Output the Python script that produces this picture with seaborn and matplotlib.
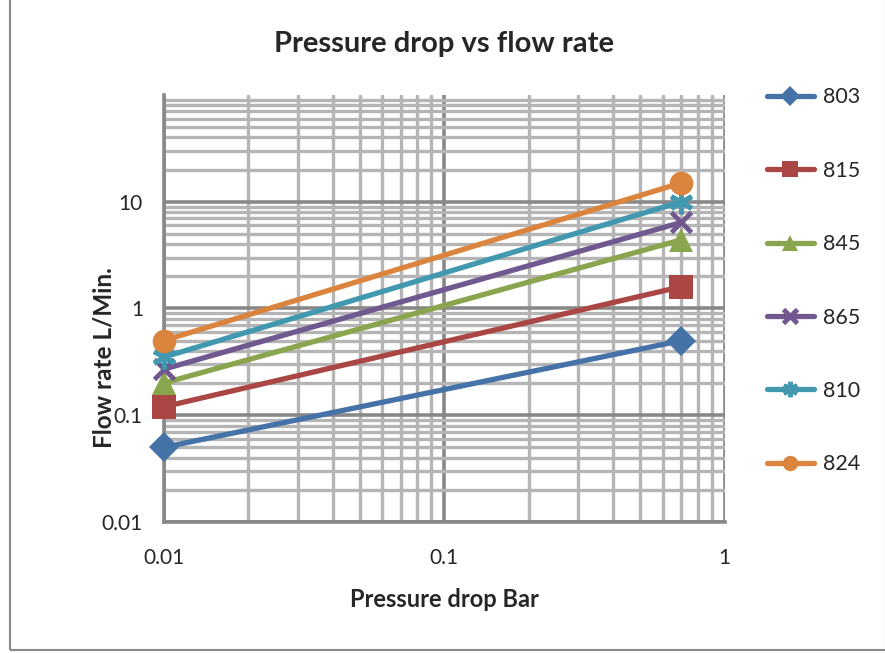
import numpy as np
import pandas as pd
import matplotlib
matplotlib.use("Agg")
import matplotlib.pyplot as plt
from matplotlib.ticker import LogLocator, FixedLocator, FixedFormatter, NullFormatter
import seaborn as sns

# data
pressure = [0.01, 0.7]
series_names = ["803", "815", "845", "865", "810", "824"]
flow_803 = [0.05, 0.5]
flow_815 = [0.12, 1.6]
flow_845 = [0.2, 4.4]
flow_865 = [0.27, 6.4]
flow_810 = [0.35, 10.0]
flow_824 = [0.5, 15.0]

colors = ["#4572A7", "#AA4643", "#89A54E", "#71588F", "#4198AF", "#DB843D"]
markers = ["D", "s", "^", "x", (6, 2, 0), "o"]
marker_sizes = [15, 17, 17, 15, 17, 17]

df = pd.DataFrame({
    "pressure": pressure * 6,
    "flow": flow_803 + flow_815 + flow_845 + flow_865 + flow_810 + flow_824,
    "series": [s for s in series_names for _ in pressure],
})

sns.set_style("white")
plt.rcParams["font.family"] = ["Lato", "DejaVu Sans"]

fig = plt.figure(figsize=(8.85, 6.53), dpi=100)
ax = fig.add_axes([0.185, 0.2006, 0.634, 0.654])

ax.set_xscale("log")
ax.set_yscale("log")

for name, col, mk, ms in zip(series_names, colors, markers, marker_sizes):
    sub = df[df["series"] == name]
    line_mk = mk in ("x", (6, 2, 0))
    sns.lineplot(data=sub, x="pressure", y="flow", ax=ax, color=col,
                 marker=mk, markersize=ms, markeredgewidth=3.5 if line_mk else 0,
                 markeredgecolor=col, linewidth=3.8, label=name, zorder=3,
                 clip_on=False)

ax.set_xlim(0.01, 1)
ax.set_ylim(0.01, 100)

# grid
ax.yaxis.set_major_locator(FixedLocator([0.01, 0.1, 1, 10]))
ax.yaxis.set_major_formatter(FixedFormatter(["0.01", "0.1", "1", "10"]))
ax.xaxis.set_major_locator(FixedLocator([0.01, 0.1, 1]))
ax.xaxis.set_major_formatter(FixedFormatter(["0.01", "0.1", "1"]))
ax.xaxis.set_minor_locator(LogLocator(base=10, subs=np.arange(2, 10), numticks=10))
ax.yaxis.set_minor_locator(LogLocator(base=10, subs=np.arange(2, 10), numticks=10))
ax.xaxis.set_minor_formatter(NullFormatter())
ax.yaxis.set_minor_formatter(NullFormatter())
ax.grid(which="minor", color="#b5b5b5", linewidth=2.4, zorder=0)
ax.grid(which="major", color="#888888", linewidth=2.6, zorder=0)
ax.set_axisbelow(True)

for side in ["top", "right"]:
    ax.spines[side].set_visible(False)
for side in ["left", "bottom"]:
    ax.spines[side].set_color("#888888")
    ax.spines[side].set_linewidth(2.6)

ax.tick_params(which="major", direction="out", length=7, width=2.5, color="#888888",
               labelsize=15, pad=12)
ax.tick_params(axis="y", which="major", pad=8)
ax.tick_params(which="minor", length=0)

ax.set_title("Pressure drop vs flow rate", fontsize=21, fontweight="bold", pad=31)
ax.set_xlabel("Pressure drop Bar", fontsize=17, fontweight="bold", labelpad=14)
ax.set_ylabel("Flow rate L/Min.", fontsize=17.5, fontweight="bold")
ax.yaxis.set_label_coords(-0.086, 0.386)

leg = ax.legend(loc="upper left", bbox_to_anchor=(1.04, 1.063), frameon=False,
                fontsize=15.5, labelspacing=2.48, handlelength=2.2, handletextpad=0.4,
                markerscale=0.65)

# chart area border
fig.patches.append(plt.Rectangle((0.011, 0.004), 0.99, 1.2, transform=fig.transFigure,
                                 fill=False, edgecolor="#888888", linewidth=1.5))

fig.savefig("out.png", dpi=100)
